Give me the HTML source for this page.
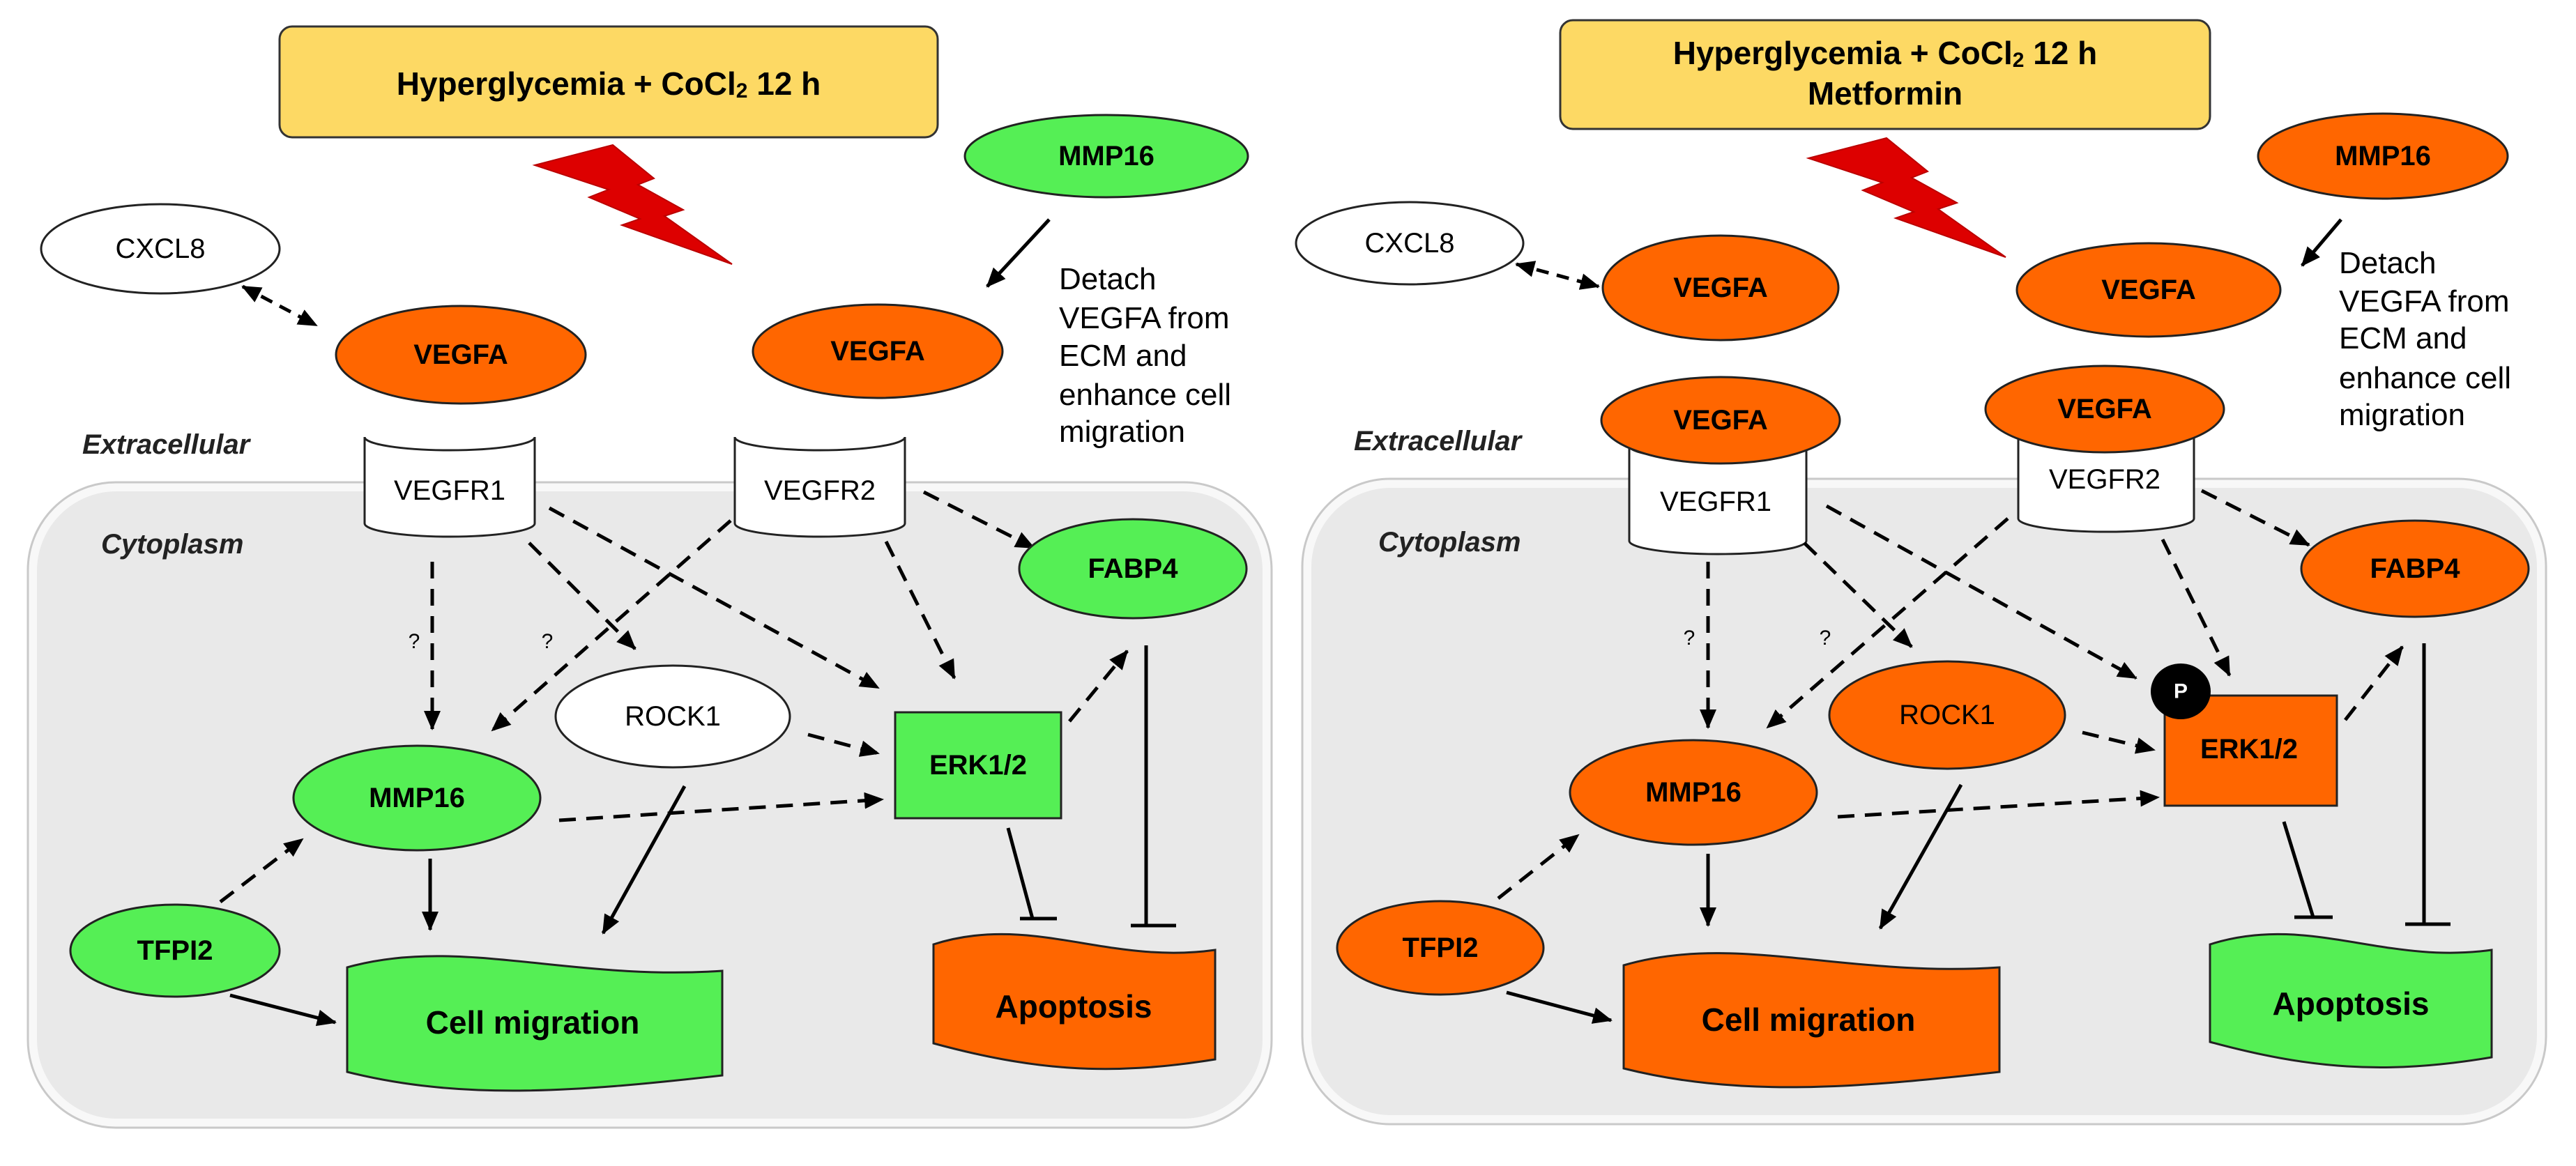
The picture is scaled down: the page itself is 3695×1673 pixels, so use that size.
<!DOCTYPE html>
<html><head><meta charset="utf-8"><style>
html,body{margin:0;padding:0;background:#fff;}
svg{display:block;}
text{font-family:"Liberation Sans",Arial,sans-serif;}
.b{font-weight:bold;font-size:40px;text-anchor:middle;dominant-baseline:central;}
.r{font-size:40px;text-anchor:middle;dominant-baseline:central;}
.d{fill:none;stroke:#000;stroke-width:5;stroke-dasharray:24 15;}
.s{fill:none;stroke:#000;stroke-width:5;}
.det{font-size:44px;}
.it{font-style:italic;font-weight:bold;font-size:40px;fill:#222;}
.q{font-size:30px;text-anchor:middle;}
</style></head><body>
<svg width="3695" height="1673" viewBox="0 0 3695 1673" xmlns="http://www.w3.org/2000/svg">
<defs>
<marker id="a" markerUnits="userSpaceOnUse" markerWidth="30" markerHeight="30" refX="26" refY="15" orient="auto"><path d="M0,3 L28,15 L0,27 Z" fill="#000"/></marker>
<marker id="a0" markerUnits="userSpaceOnUse" markerWidth="30" markerHeight="30" refX="4" refY="15" orient="auto"><path d="M30,3 L2,15 L30,27 Z" fill="#000"/></marker>
</defs>

<!-- ============ LEFT PANEL ============ -->
<rect x="47" y="699" width="1770" height="912" rx="120" fill="#e9e9e9" stroke="#f8f8f8" stroke-width="12"/>
<rect x="40" y="692" width="1784" height="926" rx="126" fill="none" stroke="#c9c9c9" stroke-width="3"/>

<rect x="401" y="38" width="944" height="159" rx="18" fill="#fdd964" stroke="#333" stroke-width="3"/>
<text x="873" y="120" class="b" style="font-size:46px">Hyperglycemia + CoCl<tspan dy="10" style="font-size:30px">2</tspan><tspan dy="-10"> 12 h</tspan></text>

<polygon points="767,237 879,208 938,256 915,265 980,301 953,310 1050,379 892,323 918,314 845,283 873,272" fill="#dd0000" stroke="#b00" stroke-width="2"/>

<ellipse cx="1587" cy="224" rx="203" ry="59" fill="#55ef55" stroke="#222" stroke-width="3"/>
<text x="1587" y="224" class="b">MMP16</text>
<line x1="1505" y1="315" x2="1416" y2="411" class="s" marker-end="url(#a)"/>
<text class="det" x="1519" y="415">Detach</text>
<text class="det" x="1519" y="471">VEGFA  from</text>
<text class="det" x="1519" y="525">ECM and</text>
<text class="det" x="1519" y="581">enhance cell</text>
<text class="det" x="1519" y="634">migration</text>

<ellipse cx="230" cy="357" rx="171" ry="64" fill="#fff" stroke="#222" stroke-width="3"/>
<text x="230" y="357" class="r">CXCL8</text>
<line x1="348" y1="411" x2="454" y2="467" class="d" marker-start="url(#a0)" marker-end="url(#a)" style="stroke-dasharray:18 12"/>

<ellipse cx="661" cy="509" rx="179" ry="70" fill="#ff6600" stroke="#222" stroke-width="3"/>
<text x="661" y="509" class="b">VEGFA</text>
<ellipse cx="1259" cy="504" rx="179" ry="67" fill="#ff6600" stroke="#222" stroke-width="3"/>
<text x="1259" y="504" class="b">VEGFA</text>

<text x="118" y="651" class="it">Extracellular</text>
<text x="145" y="794" class="it">Cytoplasm</text>

<path d="M523,627 L523,751 A122,19 0 0 0 767,751 L767,627 A122,19 0 0 1 523,627 Z" fill="#fff" stroke="#222" stroke-width="3"/>
<text x="645" y="704" class="r">VEGFR1</text>
<path d="M1054,627 L1054,751 A122,19 0 0 0 1298,751 L1298,627 A122,19 0 0 1 1054,627 Z" fill="#fff" stroke="#222" stroke-width="3"/>
<text x="1176" y="704" class="r">VEGFR2</text>

<line x1="620" y1="806" x2="620" y2="1046" class="d" marker-end="url(#a)"/>
<text x="594" y="930" class="q">?</text>
<line x1="1048" y1="747" x2="706" y2="1048" class="d" marker-end="url(#a)"/>
<text x="785" y="930" class="q">?</text>
<line x1="759" y1="779" x2="911" y2="931" class="d" marker-end="url(#a)"/>
<line x1="788" y1="729" x2="1260" y2="987" class="d" marker-end="url(#a)"/>
<line x1="1271" y1="777" x2="1369" y2="973" class="d" marker-end="url(#a)"/>
<line x1="1325" y1="706" x2="1483" y2="786" class="d" marker-end="url(#a)"/>
<line x1="1159" y1="1054" x2="1260" y2="1081" class="d" marker-end="url(#a)"/>
<line x1="802" y1="1177" x2="1266" y2="1147" class="d" marker-end="url(#a)"/>
<line x1="1534" y1="1035" x2="1617" y2="934" class="d" marker-end="url(#a)"/>
<line x1="316" y1="1294" x2="434" y2="1204" class="d" marker-end="url(#a)"/>

<ellipse cx="1625" cy="816" rx="163" ry="71" fill="#55ef55" stroke="#222" stroke-width="3"/>
<text x="1625" y="816" class="b">FABP4</text>
<ellipse cx="965" cy="1028" rx="168" ry="73" fill="#fff" stroke="#222" stroke-width="3"/>
<text x="965" y="1028" class="r">ROCK1</text>
<rect x="1284" y="1022" width="238" height="152" fill="#55ef55" stroke="#222" stroke-width="3"/>
<text x="1403" y="1098" class="b">ERK1/2</text>
<ellipse cx="598" cy="1145" rx="177" ry="75" fill="#55ef55" stroke="#222" stroke-width="3"/>
<text x="598" y="1145" class="b">MMP16</text>
<ellipse cx="251" cy="1364" rx="150" ry="66" fill="#55ef55" stroke="#222" stroke-width="3"/>
<text x="251" y="1364" class="b">TFPI2</text>

<line x1="982" y1="1128" x2="865" y2="1339" class="s" marker-end="url(#a)"/>
<line x1="617" y1="1232" x2="617" y2="1334" class="s" marker-end="url(#a)"/>
<line x1="330" y1="1428" x2="481" y2="1467" class="s" marker-end="url(#a)"/>
<line x1="1446" y1="1188" x2="1481" y2="1318" class="s"/>
<line x1="1463" y1="1318" x2="1516" y2="1318" class="s"/>
<line x1="1644" y1="926" x2="1644" y2="1328" class="s"/>
<line x1="1622" y1="1328" x2="1687" y2="1328" class="s"/>

<path transform="translate(498,1368)" d="M0,20 C160,-25 320,40 538,25 L538,175 C320,200 160,210 0,170 Z" fill="#55ef55" stroke="#222" stroke-width="3"/>
<text x="764" y="1467" class="b" style="font-size:46px">Cell migration</text>
<path transform="translate(1339,1335)" d="M0,20 C140,-25 250,50 404,28 L404,185 C250,210 140,200 0,162 Z" fill="#ff6600" stroke="#222" stroke-width="3"/>
<text x="1540" y="1444" class="b" style="font-size:46px">Apoptosis</text>

<!-- ============ RIGHT PANEL ============ -->
<rect x="1875" y="694" width="1770" height="912" rx="120" fill="#e9e9e9" stroke="#f8f8f8" stroke-width="12"/>
<rect x="1868" y="687" width="1784" height="926" rx="126" fill="none" stroke="#c9c9c9" stroke-width="3"/>

<rect x="2238" y="29" width="932" height="156" rx="18" fill="#fdd964" stroke="#333" stroke-width="3"/>
<text x="2704" y="76" class="b" style="font-size:46px">Hyperglycemia + CoCl<tspan dy="10" style="font-size:30px">2</tspan><tspan dy="-10"> 12 h</tspan></text>
<text x="2704" y="134" class="b" style="font-size:46px">Metformin</text>

<polygon points="2594,227 2706,198 2765,246 2742,255 2807,291 2780,300 2877,369 2719,313 2745,304 2672,273 2700,262" fill="#dd0000" stroke="#b00" stroke-width="2"/>

<ellipse cx="3418" cy="224" rx="179" ry="61" fill="#ff6600" stroke="#222" stroke-width="3"/>
<text x="3418" y="224" class="b">MMP16</text>
<line x1="3358" y1="315" x2="3302" y2="381" class="s" marker-end="url(#a)"/>
<text class="det" x="3355" y="392">Detach</text>
<text class="det" x="3355" y="447">VEGFA  from</text>
<text class="det" x="3355" y="500">ECM and</text>
<text class="det" x="3355" y="557">enhance cell</text>
<text class="det" x="3355" y="610">migration</text>

<ellipse cx="2022" cy="349" rx="163" ry="59" fill="#fff" stroke="#222" stroke-width="3"/>
<text x="2022" y="349" class="r">CXCL8</text>
<line x1="2175" y1="379" x2="2293" y2="411" class="d" marker-start="url(#a0)" marker-end="url(#a)" style="stroke-dasharray:18 12"/>

<ellipse cx="2468" cy="413" rx="169" ry="75" fill="#ff6600" stroke="#222" stroke-width="3"/>
<text x="2468" y="413" class="b">VEGFA</text>
<ellipse cx="3082" cy="416" rx="189" ry="67" fill="#ff6600" stroke="#222" stroke-width="3"/>
<text x="3082" y="416" class="b">VEGFA</text>

<text x="1942" y="646" class="it">Extracellular</text>
<text x="1977" y="791" class="it">Cytoplasm</text>

<path d="M2337,640 L2337,776 A127,19 0 0 0 2591,776 L2591,640 A127,19 0 0 1 2337,640 Z" fill="#fff" stroke="#222" stroke-width="3"/>
<text x="2461" y="720" class="r">VEGFR1</text>
<ellipse cx="2468" cy="603" rx="171" ry="62" fill="#ff6600" stroke="#222" stroke-width="3"/>
<text x="2468" y="603" class="b">VEGFA</text>
<path d="M2895,619 L2895,744 A126,19 0 0 0 3147,744 L3147,619 A126,19 0 0 1 2895,619 Z" fill="#fff" stroke="#222" stroke-width="3"/>
<text x="3019" y="688" class="r">VEGFR2</text>
<ellipse cx="3019" cy="587" rx="171" ry="62" fill="#ff6600" stroke="#222" stroke-width="3"/>
<text x="3019" y="587" class="b">VEGFA</text>

<line x1="2450" y1="806" x2="2450" y2="1044" class="d" marker-end="url(#a)"/>
<text x="2423" y="925" class="q">?</text>
<line x1="2880" y1="744" x2="2535" y2="1044" class="d" marker-end="url(#a)"/>
<text x="2618" y="925" class="q">?</text>
<line x1="2588" y1="779" x2="2742" y2="928" class="d" marker-end="url(#a)"/>
<line x1="2620" y1="726" x2="3064" y2="973" class="d" marker-end="url(#a)"/>
<line x1="3102" y1="774" x2="3198" y2="969" class="d" marker-end="url(#a)"/>
<line x1="3158" y1="704" x2="3312" y2="782" class="d" marker-end="url(#a)"/>
<line x1="2987" y1="1051" x2="3090" y2="1076" class="d" marker-end="url(#a)"/>
<line x1="2636" y1="1172" x2="3096" y2="1144" class="d" marker-end="url(#a)"/>
<line x1="3364" y1="1033" x2="3446" y2="928" class="d" marker-end="url(#a)"/>
<line x1="2149" y1="1289" x2="2264" y2="1198" class="d" marker-end="url(#a)"/>

<ellipse cx="3464" cy="816" rx="163" ry="69" fill="#ff6600" stroke="#222" stroke-width="3"/>
<text x="3464" y="816" class="b">FABP4</text>
<ellipse cx="2793" cy="1026" rx="169" ry="77" fill="#ff6600" stroke="#222" stroke-width="3"/>
<text x="2793" y="1026" class="r">ROCK1</text>
<rect x="3105" y="998" width="247" height="158" fill="#ff6600" stroke="#222" stroke-width="3"/>
<text x="3226" y="1075" class="b">ERK1/2</text>
<ellipse cx="3128" cy="992" rx="43" ry="40" fill="#000"/>
<text x="3128" y="992" class="b" style="fill:#fff;font-size:30px">P</text>
<ellipse cx="2429" cy="1137" rx="177" ry="75" fill="#ff6600" stroke="#222" stroke-width="3"/>
<text x="2429" y="1137" class="b">MMP16</text>
<ellipse cx="2066" cy="1360" rx="148" ry="67" fill="#ff6600" stroke="#222" stroke-width="3"/>
<text x="2066" y="1360" class="b">TFPI2</text>

<line x1="2813" y1="1126" x2="2697" y2="1332" class="s" marker-end="url(#a)"/>
<line x1="2450" y1="1225" x2="2450" y2="1328" class="s" marker-end="url(#a)"/>
<line x1="2161" y1="1424" x2="2311" y2="1464" class="s" marker-end="url(#a)"/>
<line x1="3276" y1="1179" x2="3318" y2="1316" class="s"/>
<line x1="3291" y1="1316" x2="3346" y2="1316" class="s"/>
<line x1="3477" y1="923" x2="3477" y2="1326" class="s"/>
<line x1="3450" y1="1326" x2="3515" y2="1326" class="s"/>

<path transform="translate(2329,1363)" d="M0,22 C160,-25 320,40 539,25 L539,175 C320,200 160,210 0,170 Z" fill="#ff6600" stroke="#222" stroke-width="3"/>
<text x="2594" y="1463" class="b" style="font-size:46px">Cell migration</text>
<path transform="translate(3170,1335)" d="M0,20 C140,-25 250,50 404,28 L404,182 C250,208 140,198 0,160 Z" fill="#55ef55" stroke="#222" stroke-width="3"/>
<text x="3372" y="1440" class="b" style="font-size:46px">Apoptosis</text>
</svg>
</body></html>
